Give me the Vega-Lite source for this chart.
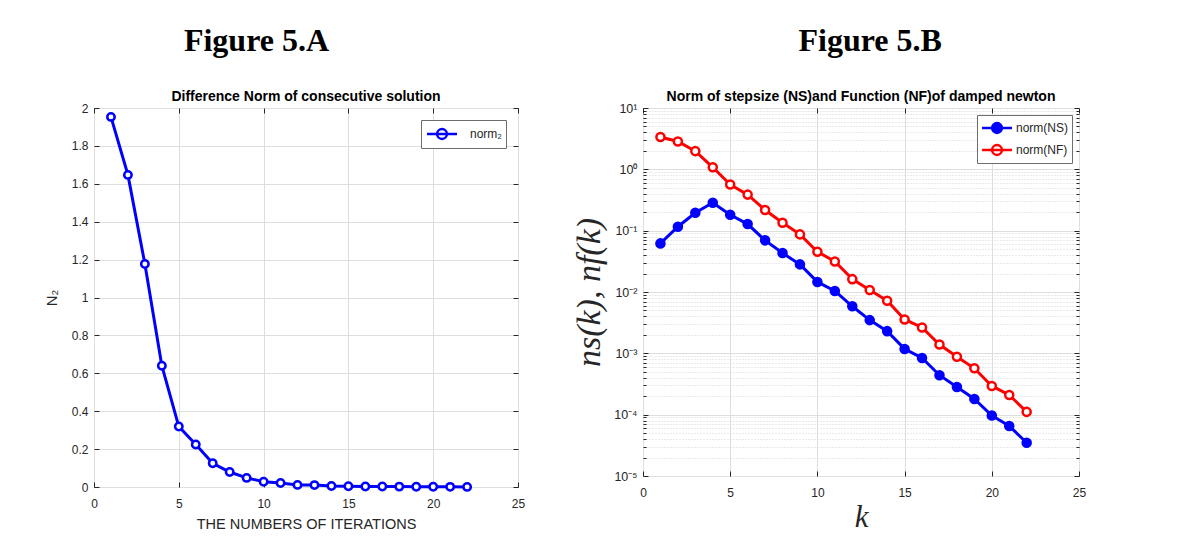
{
  "$schema": "https://vega.github.io/schema/vega-lite/v6.json",
  "background": "white",
  "padding": {"left": 43, "top": 24, "right": 5, "bottom": 5},
  "spacing": 46,
  "resolve": {
    "scale": {"stroke": "independent", "fill": "independent"},
    "legend": {"stroke": "independent", "fill": "independent"}
  },
  "datasets": {
    "iterA": [
      {"k": 1, "n2": 1.953}, {"k": 2, "n2": 1.647}, {"k": 3, "n2": 1.177},
      {"k": 4, "n2": 0.640}, {"k": 5, "n2": 0.319}, {"k": 6, "n2": 0.224},
      {"k": 7, "n2": 0.125}, {"k": 8, "n2": 0.079}, {"k": 9, "n2": 0.048},
      {"k": 10, "n2": 0.028}, {"k": 11, "n2": 0.021}, {"k": 12, "n2": 0.011},
      {"k": 13, "n2": 0.010}, {"k": 14, "n2": 0.005}, {"k": 15, "n2": 0.004},
      {"k": 16, "n2": 0.003}, {"k": 17, "n2": 0.0025}, {"k": 18, "n2": 0.002},
      {"k": 19, "n2": 0.0015}, {"k": 20, "n2": 0.001}, {"k": 21, "n2": 0.0008},
      {"k": 22, "n2": 0.0006}
    ],
    "newton": [
      {"k": 1, "series": "norm(NS)", "value": 0.062},
      {"k": 2, "series": "norm(NS)", "value": 0.116},
      {"k": 3, "series": "norm(NS)", "value": 0.196},
      {"k": 4, "series": "norm(NS)", "value": 0.286},
      {"k": 5, "series": "norm(NS)", "value": 0.182},
      {"k": 6, "series": "norm(NS)", "value": 0.128},
      {"k": 7, "series": "norm(NS)", "value": 0.0695},
      {"k": 8, "series": "norm(NS)", "value": 0.0431},
      {"k": 9, "series": "norm(NS)", "value": 0.0282},
      {"k": 10, "series": "norm(NS)", "value": 0.0146},
      {"k": 11, "series": "norm(NS)", "value": 0.0104},
      {"k": 12, "series": "norm(NS)", "value": 0.00585},
      {"k": 13, "series": "norm(NS)", "value": 0.00348},
      {"k": 14, "series": "norm(NS)", "value": 0.0023},
      {"k": 15, "series": "norm(NS)", "value": 0.00118},
      {"k": 16, "series": "norm(NS)", "value": 0.00084},
      {"k": 17, "series": "norm(NS)", "value": 0.00044},
      {"k": 18, "series": "norm(NS)", "value": 0.000283},
      {"k": 19, "series": "norm(NS)", "value": 0.00018},
      {"k": 20, "series": "norm(NS)", "value": 0.0000969},
      {"k": 21, "series": "norm(NS)", "value": 0.0000655},
      {"k": 22, "series": "norm(NS)", "value": 0.0000348},
      {"k": 1, "series": "norm(NF)", "value": 3.36},
      {"k": 2, "series": "norm(NF)", "value": 2.84},
      {"k": 3, "series": "norm(NF)", "value": 1.98},
      {"k": 4, "series": "norm(NF)", "value": 1.08},
      {"k": 5, "series": "norm(NF)", "value": 0.564},
      {"k": 6, "series": "norm(NF)", "value": 0.387},
      {"k": 7, "series": "norm(NF)", "value": 0.217},
      {"k": 8, "series": "norm(NF)", "value": 0.135},
      {"k": 9, "series": "norm(NF)", "value": 0.087},
      {"k": 10, "series": "norm(NF)", "value": 0.0453},
      {"k": 11, "series": "norm(NF)", "value": 0.0315},
      {"k": 12, "series": "norm(NF)", "value": 0.0162},
      {"k": 13, "series": "norm(NF)", "value": 0.0108},
      {"k": 14, "series": "norm(NF)", "value": 0.0072},
      {"k": 15, "series": "norm(NF)", "value": 0.00357},
      {"k": 16, "series": "norm(NF)", "value": 0.00264},
      {"k": 17, "series": "norm(NF)", "value": 0.00139},
      {"k": 18, "series": "norm(NF)", "value": 0.00088},
      {"k": 19, "series": "norm(NF)", "value": 0.00057},
      {"k": 20, "series": "norm(NF)", "value": 0.000294},
      {"k": 21, "series": "norm(NF)", "value": 0.000209},
      {"k": 22, "series": "norm(NF)", "value": 0.000111}
    ]
  },
  "config": {
    "font": "Liberation Sans",
    "view": {"stroke": "#262626", "strokeWidth": 1},
    "axis": {
      "domain": false,
      "labelFont": "Liberation Sans",
      "labelFontSize": 12,
      "labelColor": "#262626",
      "labelFlush": false,
      "labelOverlap": false,
      "tickColor": "#262626",
      "tickWidth": 1,
      "gridColor": "#dedede",
      "gridWidth": 1,
      "titleFont": "Liberation Sans",
      "titleFontWeight": "normal",
      "titleColor": "#262626"
    },
    "legend": {
      "fillColor": "white",
      "strokeColor": "#6e6e6e",
      "labelFont": "Liberation Sans",
      "labelColor": "#262626",
      "symbolStrokeWidth": 2.5,
      "symbolType": "M-1.76,0H1.76M0.58,0A0.58,0.58,0,1,1,-0.58,0A0.58,0.58,0,1,1,0.58,0",
      "symbolSize": 289,
      "symbolOffset": 7
    },
    "title": {"font": "Liberation Sans", "color": "black"}
  },
  "hconcat": [
    {
      "title": {"text": "Figure 5.A", "font": "Liberation Serif", "fontSize": 32, "fontWeight": "bold", "anchor": "middle", "offset": 32, "dx": -28},
      "resolve": {
        "scale": {"stroke": "independent", "fill": "independent"},
        "legend": {"stroke": "independent", "fill": "independent"}
      },
      "vconcat": [
        {
          "width": 424,
          "height": 379,
          "title": {"text": "Difference Norm of consecutive solution", "fontSize": 14, "fontWeight": "bold", "offset": -2},
          "data": {"name": "iterA"},
          "layer": [
            {
              "mark": {"type": "line", "strokeWidth": 3},
              "encoding": {
                "x": {"field": "k", "type": "quantitative", "scale": {"domain": [0, 25], "nice": false},
                  "axis": {"orient": "bottom", "values": [0, 5, 10, 15, 20, 25], "grid": true, "tickSize": -5, "labelPadding": 16,
                    "title": "THE NUMBERS OF ITERATIONS", "titleFontSize": 14.5, "titlePadding": 8}},
                "y": {"field": "n2", "type": "quantitative", "scale": {"domain": [0, 2], "nice": false},
                  "axis": {"orient": "left", "values": [0, 0.2, 0.4, 0.6, 0.8, 1, 1.2, 1.4, 1.6, 1.8, 2], "format": "~g", "grid": true, "tickSize": -5, "labelPadding": 11,
                    "title": "N₂", "titleFontSize": 15, "titlePadding": 12}},
                "stroke": {"datum": "norm₂", "type": "nominal", "scale": {"domain": ["norm₂"], "range": ["#0000ff"]},
                  "legend": {"title": null, "orient": "top-right", "offset": 12, "labelFontSize": 12, "labelOffset": 18, "padding": 4}}
              }
            },
            {
              "mark": {"type": "point", "shape": "circle", "size": 55, "strokeWidth": 2.5, "opacity": 1},
              "encoding": {
                "x": {"field": "k", "type": "quantitative",
                  "axis": {"orient": "top", "values": [0, 5, 10, 15, 20, 25], "labels": false, "grid": false, "tickSize": -5, "title": null}},
                "y": {"field": "n2", "type": "quantitative",
                  "axis": {"orient": "right", "values": [0, 0.2, 0.4, 0.6, 0.8, 1, 1.2, 1.4, 1.6, 1.8, 2], "labels": false, "grid": false, "tickSize": -5, "title": null}},
                "stroke": {"datum": "norm₂", "type": "nominal",
                  "legend": {"title": null, "orient": "top-right", "offset": 12, "labelFontSize": 12, "labelOffset": 18, "padding": 4}},
                "fill": {"datum": "norm₂", "type": "nominal", "scale": {"domain": ["norm₂"], "range": ["#ffffff"]},
                  "legend": {"title": null, "orient": "top-right", "offset": 12, "labelFontSize": 12, "labelOffset": 18, "padding": 4}}
              }
            }
          ],
          "resolve": {"axis": {"x": "independent", "y": "independent"}}
        }
      ]
    },
    {
      "title": {"text": "Figure 5.B", "font": "Liberation Serif", "fontSize": 32, "fontWeight": "bold", "anchor": "middle", "offset": 32, "dx": 41},
      "resolve": {
        "scale": {"stroke": "independent", "fill": "independent"},
        "legend": {"stroke": "independent", "fill": "independent"}
      },
      "vconcat": [
        {
          "width": 436,
          "height": 368,
          "title": {"text": "Norm of stepsize (NS)and Function (NF)of damped newton", "fontSize": 14, "fontWeight": "bold", "offset": -2},
          "data": {"name": "newton"},
          "layer": [
            {
              "mark": {"type": "line", "strokeWidth": 3},
              "encoding": {
                "x": {"field": "k", "type": "quantitative", "scale": {"domain": [0, 25], "nice": false},
                  "axis": {"orient": "bottom", "values": [0, 5, 10, 15, 20, 25], "grid": true, "tickSize": -5, "labelPadding": 16,
                    "title": "k", "titleFont": "Liberation Serif", "titleFontStyle": "italic", "titleFontSize": 31, "titlePadding": 4}},
                "y": {"field": "value", "type": "quantitative", "scale": {"type": "log", "domain": [0.00001, 10], "nice": false},
                  "axis": {"orient": "left",
                    "values": [0.00001, 0.00002, 0.00003, 0.00004, 0.00005, 0.00006, 0.00007, 0.00008, 0.00009,
                               0.0001, 0.0002, 0.0003, 0.0004, 0.0005, 0.0006, 0.0007, 0.0008, 0.0009,
                               0.001, 0.002, 0.003, 0.004, 0.005, 0.006, 0.007, 0.008, 0.009,
                               0.01, 0.02, 0.03, 0.04, 0.05, 0.06, 0.07, 0.08, 0.09,
                               0.1, 0.2, 0.3, 0.4, 0.5, 0.6, 0.7, 0.8, 0.9,
                               1, 2, 3, 4, 5, 6, 7, 8, 9, 10],
                    "labelExpr": "['10¹','10⁰','10⁻¹','10⁻²','10⁻³','10⁻⁴','10⁻⁵'][indexof([10,1,0.1,0.01,0.001,0.0001,0.00001], datum.value)] || ''",
                    "labelFontSize": 12.5,
                    "grid": true,
                    "gridColor": {"condition": {"test": "indexof([10,1,0.1,0.01,0.001,0.0001,0.00001], datum.value) >= 0", "value": "#dedede"}, "value": "#d4d4d4"},
                    "gridDash": {"condition": {"test": "indexof([10,1,0.1,0.01,0.001,0.0001,0.00001], datum.value) >= 0", "value": []}, "value": [1, 2]},
                    "tickSize": {"condition": {"test": "indexof([10,1,0.1,0.01,0.001,0.0001,0.00001], datum.value) >= 0", "value": -5}, "value": -3},
                    "labelPadding": 11,
                    "title": "ns(k), nf(k)", "titleFont": "Liberation Serif", "titleFontStyle": "italic", "titleFontSize": 34, "titlePadding": 7}},
                "stroke": {"field": "series", "type": "nominal", "scale": {"domain": ["norm(NS)", "norm(NF)"], "range": ["#0000ff", "#ff0000"]},
                  "legend": {"title": null, "orient": "top-right", "offset": 7, "labelFontSize": 12, "labelOffset": 9, "padding": 3, "rowPadding": 2}}
              }
            },
            {
              "mark": {"type": "point", "shape": "circle", "size": 65, "strokeWidth": 2.5, "opacity": 1},
              "encoding": {
                "x": {"field": "k", "type": "quantitative",
                  "axis": {"orient": "top", "values": [0, 5, 10, 15, 20, 25], "labels": false, "grid": false, "tickSize": -5, "title": null}},
                "y": {"field": "value", "type": "quantitative",
                  "axis": {"orient": "right",
                    "values": [0.00001, 0.00002, 0.00003, 0.00004, 0.00005, 0.00006, 0.00007, 0.00008, 0.00009,
                               0.0001, 0.0002, 0.0003, 0.0004, 0.0005, 0.0006, 0.0007, 0.0008, 0.0009,
                               0.001, 0.002, 0.003, 0.004, 0.005, 0.006, 0.007, 0.008, 0.009,
                               0.01, 0.02, 0.03, 0.04, 0.05, 0.06, 0.07, 0.08, 0.09,
                               0.1, 0.2, 0.3, 0.4, 0.5, 0.6, 0.7, 0.8, 0.9,
                               1, 2, 3, 4, 5, 6, 7, 8, 9, 10],
                    "labels": false, "grid": false, "title": null,
                    "tickSize": {"condition": {"test": "indexof([10,1,0.1,0.01,0.001,0.0001,0.00001], datum.value) >= 0", "value": -5}, "value": -3}}},
                "stroke": {"field": "series", "type": "nominal",
                  "legend": {"title": null, "orient": "top-right", "offset": 7, "labelFontSize": 12, "labelOffset": 9, "padding": 3, "rowPadding": 2}},
                "fill": {"field": "series", "type": "nominal", "scale": {"domain": ["norm(NS)", "norm(NF)"], "range": ["#0000ff", "#ffffff"]},
                  "legend": {"title": null, "orient": "top-right", "offset": 7, "labelFontSize": 12, "labelOffset": 9, "padding": 3, "rowPadding": 2}}
              }
            }
          ],
          "resolve": {"axis": {"x": "independent", "y": "independent"}}
        }
      ]
    }
  ]
}
